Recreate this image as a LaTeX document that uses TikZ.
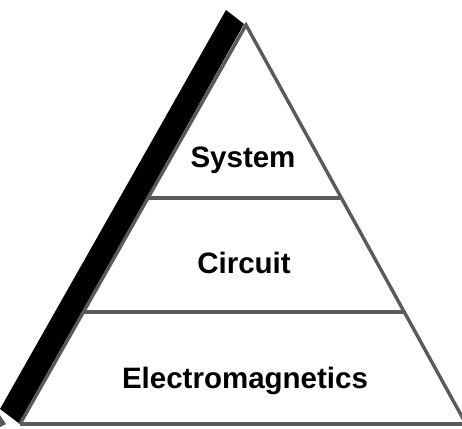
\documentclass[tikz,border=0pt]{standalone}
\usepackage{fontspec}
\setmainfont{Liberation Sans}
\usetikzlibrary{calc}
\definecolor{edgegray}{HTML}{5A5A5A}
\tikzset{
  edgeline/.style={draw=edgegray, line width=3.4pt, line join=miter},
  levellabel/.style={font=\fontsize{29.5}{32}\selectfont\bfseries, anchor=base, inner sep=0pt}
}
\begin{document}
\begin{tikzpicture}[x=1pt,y=-1pt]
\useasboundingbox (0,0) rectangle (462,428);
% key points
\coordinate (A) at (246,25);
\coordinate (BL) at (20,424);
\coordinate (BR) at (466,424);
\coordinate (L1) at ($(A)!0.4336!(BL)$);
\coordinate (R1) at ($(A)!0.4336!(BR)$);
\coordinate (L2) at ($(A)!0.7193!(BL)$);
\coordinate (R2) at ($(A)!0.7193!(BR)$);
% black side band
\fill[black] (226,10) -- (244,24) -- (BL) -- (0,409) -- cycle;
% small gray fragment bottom-left
\fill[edgegray] (0,415) -- (6,424) -- (0,427) -- cycle;
% pyramid outline
\draw[edgeline] (BL) -- (A) -- (BR);
\draw[edgeline] (BL) -- (BR);
\draw[edgeline] (L1) -- (R1);
\draw[edgeline] (L2) -- (R2);
% labels
\node[levellabel] (sys) at (243,167) {System};
\node[levellabel] (cir) at (244,273) {Circuit};
\node[levellabel] (em) at (245,388) {Electromagnetics};
\end{tikzpicture}
\end{document}
